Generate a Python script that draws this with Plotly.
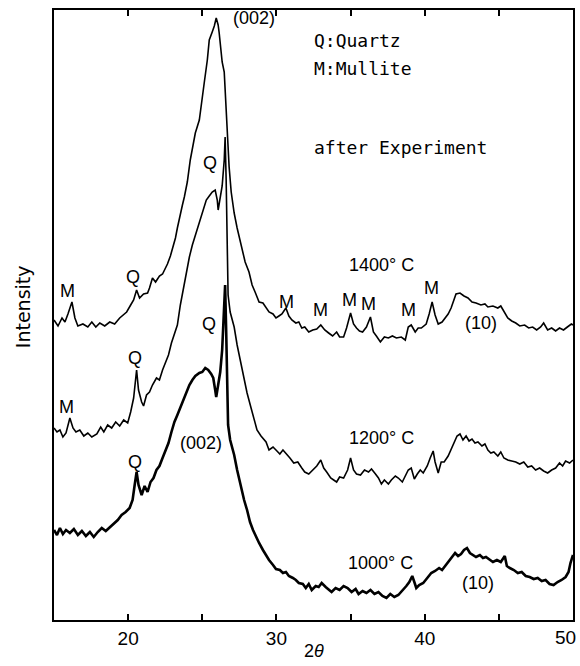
import plotly.graph_objects as go

# 2-theta (deg) and plotted intensity (arbitrary units, curves vertically offset)
theta_1400 = [15.0, 15.27, 15.54, 15.74, 15.94, 16.21, 16.41, 16.61, 16.95, 17.28, 17.55, 17.82, 18.09, 18.42, 18.76,
              19.09, 19.43, 19.70, 19.90, 20.17, 20.37, 20.57, 20.77, 21.04, 21.31, 21.44, 21.64, 21.85, 22.11, 22.32,
              22.52, 22.65, 22.85, 22.99, 23.19, 23.32, 23.46, 23.66, 23.79, 23.99, 24.19, 24.33, 24.53, 24.80, 25.00,
              25.13, 25.34, 25.47, 25.67, 25.81, 25.94, 26.07, 26.14, 26.28, 26.34, 26.48, 26.54, 26.61, 26.74, 26.81,
              26.95, 27.15, 27.35, 27.62, 27.89, 28.15, 28.36, 28.56, 28.83, 29.09, 29.30, 29.50, 29.77, 29.97, 30.17,
              30.37, 30.64, 30.84, 31.04, 31.31, 31.51, 31.71, 31.91, 32.18, 32.45, 32.72, 32.99, 33.26, 33.52, 33.79,
              34.06, 34.26, 34.53, 34.73, 35.00, 35.20, 35.40, 35.60, 35.81, 36.07, 36.34, 36.54, 36.74, 37.01, 37.28,
              37.55, 37.82, 38.09, 38.42, 38.69, 38.89, 39.09, 39.36, 39.56, 39.77, 40.10, 40.30, 40.50, 40.70, 40.91,
              41.17, 41.38, 41.58, 41.78, 41.98, 42.11, 42.38, 42.65, 42.92, 43.19, 43.46, 43.79, 44.06, 44.26, 44.60,
              44.93, 45.13, 45.34, 45.60, 45.87, 46.14, 46.41, 46.74, 47.01, 47.28, 47.55, 47.82, 48.02, 48.29, 48.56,
              48.83, 49.09, 49.36, 49.62, 49.89, 50.0]
int_1400 = [300, 294, 302, 298, 306, 318, 302, 294, 296, 293, 298, 293, 297, 294, 298,
            296, 302, 306, 308, 315, 320, 330, 322, 326, 327, 332, 342, 338, 344, 346,
            352, 356, 364, 371, 382, 392, 403, 415, 423, 438, 460, 473, 487, 500, 520,
            537, 560, 580, 588, 594, 602, 595, 587, 570, 558, 548, 530, 510, 480, 453,
            428, 407, 392, 375, 358, 348, 335, 328, 318, 317, 312, 308, 306, 302, 304,
            306, 312, 304, 300, 297, 298, 292, 293, 288, 290, 291, 295, 290, 287, 284,
            288, 283, 283, 292, 307, 296, 292, 289, 288, 293, 303, 288, 284, 278, 283,
            282, 284, 282, 283, 280, 293, 295, 288, 292, 292, 296, 306, 318, 305, 296,
            298, 302, 306, 312, 320, 326, 327, 324, 322, 318, 317, 315, 316, 313, 314,
            312, 314, 308, 302, 299, 297, 294, 295, 292, 293, 290, 293, 297, 290, 292,
            289, 292, 290, 293, 296, 295]

theta_1200 = [15.0, 15.2, 15.4, 15.6, 15.81, 15.94, 16.07, 16.28, 16.48, 16.74, 17.01, 17.28, 17.55, 17.89, 18.15,
              18.36, 18.62, 18.89, 19.16, 19.43, 19.70, 19.97, 20.17, 20.37, 20.50, 20.57, 20.70, 20.91, 21.04, 21.24,
              21.44, 21.64, 21.91, 22.11, 22.32, 22.52, 22.72, 22.92, 23.12, 23.32, 23.52, 23.73, 23.93, 24.13, 24.33,
              24.60, 24.80, 25.00, 25.27, 25.47, 25.67, 25.87, 26.01, 26.07, 26.21, 26.34, 26.48, 26.54, 26.61, 26.68,
              26.74, 26.88, 27.15, 27.35, 27.62, 27.82, 28.02, 28.29, 28.49, 28.69, 28.96, 29.30, 29.50, 29.77, 29.97,
              30.23, 30.44, 30.64, 30.91, 31.17, 31.44, 31.71, 31.91, 32.18, 32.45, 32.72, 32.99, 33.19, 33.39, 33.66,
              33.86, 34.06, 34.26, 34.53, 34.80, 35.00, 35.20, 35.40, 35.67, 35.94, 36.21, 36.41, 36.68, 36.88, 37.08,
              37.28, 37.55, 37.75, 38.02, 38.22, 38.49, 38.69, 38.89, 39.09, 39.30, 39.50, 39.70, 39.90, 40.17, 40.37,
              40.57, 40.70, 40.91, 41.11, 41.31, 41.58, 41.78, 41.98, 42.18, 42.38, 42.58, 42.79, 42.99, 43.19, 43.39,
              43.59, 43.86, 44.06, 44.26, 44.46, 44.66, 44.93, 45.13, 45.34, 45.60, 45.87, 46.14, 46.41, 46.68, 46.95,
              47.21, 47.48, 47.75, 48.02, 48.29, 48.56, 48.83, 49.09, 49.30, 49.50, 49.77, 50.0]
int_1200 = [192, 188, 190, 183, 187, 195, 202, 192, 188, 190, 184, 187, 183, 186, 193,
            188, 195, 192, 198, 194, 200, 197, 208, 222, 240, 250, 230, 218, 214, 225,
            228, 235, 242, 240, 250, 258, 265, 277, 287, 295, 315, 333, 348, 363, 375,
            388, 398, 407, 420, 424, 428, 430, 420, 410, 422, 434, 460, 483, 440, 360,
            325, 308, 293, 275, 255, 240, 227, 212, 200, 190, 184, 178, 170, 173, 170,
            166, 170, 167, 162, 157, 158, 152, 148, 146, 150, 154, 160, 152, 148, 142,
            140, 138, 143, 142, 150, 162, 150, 146, 145, 150, 148, 151, 146, 142, 136,
            140, 136, 140, 144, 142, 138, 144, 150, 152, 141, 146, 150, 147, 154, 162,
            169, 158, 147, 158, 158, 164, 171, 178, 184, 186, 180, 184, 179, 181, 177,
            178, 174, 176, 170, 167, 168, 164, 168, 162, 160, 159, 158, 156, 158, 153,
            154, 150, 152, 149, 147, 150, 152, 157, 154, 159, 157, 160]

theta_1000 = [15.0, 15.2, 15.4, 15.6, 15.81, 16.07, 16.34, 16.61, 16.88, 17.15, 17.42, 17.68, 17.95, 18.22, 18.49,
              18.76, 19.03, 19.30, 19.56, 19.83, 20.10, 20.30, 20.44, 20.57, 20.70, 20.91, 21.11, 21.31, 21.51, 21.71,
              21.91, 22.11, 22.32, 22.52, 22.72, 22.92, 23.12, 23.32, 23.52, 23.73, 23.93, 24.13, 24.33, 24.53, 24.80,
              25.00, 25.20, 25.40, 25.60, 25.74, 25.87, 25.94, 26.07, 26.21, 26.34, 26.48, 26.54, 26.61, 26.68, 26.74,
              26.88, 27.15, 27.35, 27.62, 27.82, 28.02, 28.22, 28.42, 28.62, 28.83, 29.09, 29.30, 29.50, 29.77, 29.97,
              30.23, 30.44, 30.64, 30.84, 31.11, 31.31, 31.51, 31.78, 31.98, 32.18, 32.38, 32.65, 32.85, 33.05, 33.32,
              33.52, 33.72, 33.99, 34.26, 34.53, 34.80, 35.07, 35.34, 35.54, 35.81, 36.07, 36.34, 36.61, 36.88, 37.15,
              37.42, 37.68, 37.95, 38.22, 38.49, 38.76, 38.96, 39.16, 39.30, 39.43, 39.63, 39.90, 40.17, 40.44, 40.70,
              40.97, 41.17, 41.38, 41.58, 41.85, 42.05, 42.25, 42.45, 42.65, 42.85, 43.05, 43.26, 43.46, 43.72, 43.93,
              44.13, 44.40, 44.60, 44.87, 45.13, 45.40, 45.54, 45.74, 46.01, 46.28, 46.54, 46.81, 47.08, 47.35, 47.62,
              47.89, 48.15, 48.42, 48.69, 48.96, 49.23, 49.50, 49.70, 49.83, 50.0]
int_1000 = [90, 85, 92, 86, 90, 87, 91, 85, 89, 84, 88, 83, 88, 92, 89,
            93, 97, 100, 105, 108, 112, 120, 135, 148, 135, 125, 134, 128, 138, 142,
            150, 154, 162, 169, 177, 188, 198, 205, 212, 220, 227, 235, 240, 244, 247,
            248, 252, 250, 246, 242, 230, 223, 235, 248, 270, 310, 335, 290, 220, 195,
            180, 165, 150, 132, 120, 110, 98, 90, 83, 77, 70, 65, 60, 55, 51,
            50, 47, 48, 44, 42, 40, 37, 36, 32, 36, 30, 34, 33, 37, 33,
            30, 28, 32, 30, 34, 32, 28, 31, 26, 29, 27, 30, 26, 28, 24,
            22, 26, 23, 25, 29, 34, 38, 44, 38, 32, 35, 37, 42, 47, 49,
            52, 50, 54, 57, 62, 67, 64, 66, 70, 72, 67, 65, 63, 65, 62,
            63, 60, 58, 60, 58, 64, 54, 52, 50, 47, 48, 44, 43, 41, 42,
            39, 40, 36, 35, 38, 40, 43, 48, 57, 65]

# peak / curve labels: (text, 2theta, intensity)
labels = [
    ("M", 15.94, 329), ("Q", 20.30, 343), ("(002)", 28.49, 602),
    ("M", 30.70, 318), ("M", 32.99, 310), ("M", 34.93, 320), ("M", 36.21, 316),
    ("M", 38.89, 310), ("M", 40.44, 332), ("(10)", 43.79, 297), ("1400° C", 37.08, 355),
    ("M", 15.87, 213), ("Q", 20.44, 262), ("Q", 25.54, 457), ("1200° C", 37.08, 182),
    ("Q", 20.44, 158), ("(002)", 24.93, 177), ("Q", 25.47, 296),
    ("1000° C", 37.01, 57), ("(10)", 43.59, 37),
]
legend_lines = [("Q:Quartz", 32.38, 580), ("M:Mullite", 32.38, 552), ("after Experiment", 32.38, 473)]

tick_vals = [20, 25, 30, 35, 40, 45, 50]
tick_text = ["20", "", "30", "", "40", "", ""]
edge_tick_label = "50"

fig = go.Figure()
for th, iv, w, name in [(theta_1400, int_1400, 1.6, "1400°C"),
                        (theta_1200, int_1200, 1.6, "1200°C"),
                        (theta_1000, int_1000, 2.6, "1000°C")]:
    fig.add_trace(go.Scatter(x=th, y=iv, mode="lines", name=name,
                             line=dict(color="black", width=w), showlegend=False))

lab_font = dict(family="Liberation Sans, Arial, sans-serif", size=18, color="black")
for txt, xv, yv in labels:
    fig.add_annotation(x=xv, y=yv, text=txt, showarrow=False, font=lab_font,
                       xanchor="center", yanchor="middle")
for txt, xv, yv in legend_lines:
    fig.add_annotation(x=xv, y=yv, text=txt, showarrow=False,
                       font=dict(family="DejaVu Sans Mono, monospace", size=18, color="black"),
                       xanchor="left", yanchor="middle")

tick_font = dict(family="Liberation Sans, Arial", size=19, color="black")
fig.add_annotation(xref="x", yref="paper", x=50, y=-0.028, text=edge_tick_label, showarrow=False,
                   font=tick_font, xanchor="right", yanchor="middle", xshift=5)
fig.add_annotation(xref="paper", yref="paper", x=0.5, y=-0.051, text="2<i>θ</i>",
                   showarrow=False, font=dict(family="Liberation Sans, Arial", size=18, color="black"),
                   xanchor="center", yanchor="middle")
fig.add_annotation(xref="paper", yref="paper", x=-0.0595, y=0.513, text="Intensity", textangle=-90,
                   showarrow=False, font=dict(family="DejaVu Sans, sans-serif", size=19, color="black"),
                   xanchor="center", yanchor="middle")

fig.update_layout(
    width=580, height=666,
    margin=dict(l=54, r=5, t=10, b=46),
    paper_bgcolor="white", plot_bgcolor="white",
    xaxis=dict(range=[15, 50], tickvals=tick_vals, ticktext=tick_text, ticks="inside",
               ticklen=6, tickwidth=1.5, tickcolor="black", showline=True, linecolor="black",
               linewidth=1.5, mirror="ticks", showgrid=False, zeroline=False,
               tickfont=tick_font),
    yaxis=dict(range=[0, 610], showticklabels=False, ticks="", showline=True, linecolor="black",
               linewidth=1.5, mirror=True, showgrid=False, zeroline=False),
)

fig.write_html("out.html")
